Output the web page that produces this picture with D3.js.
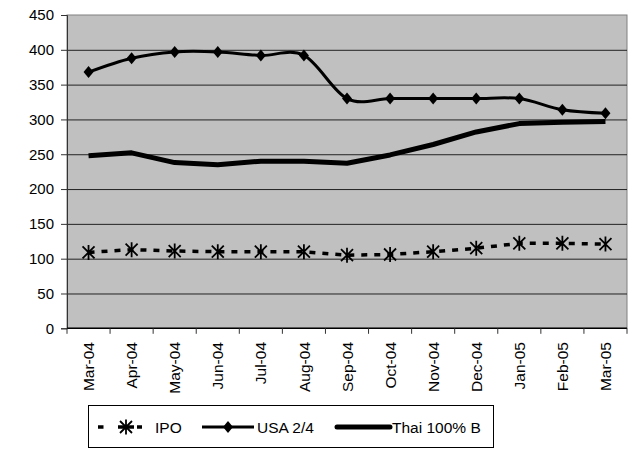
<!DOCTYPE html>
<html>
<head>
<meta charset="utf-8">
<script src="https://cdn.jsdelivr.net/npm/d3@7"></script>
<style>
  html, body { margin: 0; padding: 0; background: #fff; }
  svg { display: block; }
  text { font-family: "Liberation Sans", Arial, sans-serif; fill: #000; }
</style>
</head>
<body>
<svg id="chart" width="628" height="450"></svg>
<script>
const categories = ["Mar-04","Apr-04","May-04","Jun-04","Jul-04","Aug-04","Sep-04","Oct-04","Nov-04","Dec-04","Jan-05","Feb-05","Mar-05"];
const ipo     = [109, 113, 111, 110, 110, 110, 105, 106, 110, 115, 122, 122, 121];
const usa24   = [368, 388, 397, 397, 392, 392, 330, 330, 330, 330, 330, 314, 309];
const thai100 = [248, 252, 238, 235, 240, 240, 237, 249, 264, 282, 294, 296, 297];
const yTicks  = [0, 50, 100, 150, 200, 250, 300, 350, 400, 450];
const seriesNames = ["IPO", "USA 2/4", "Thai 100% B"];

(function () {
const svg = d3.select("#chart");
const pL = 67, pR = 627, pT = 15, pB = 328.3;

const x = d3.scaleBand().domain(categories).range([pL, pR]).padding(0);
const y = d3.scaleLinear().domain([0, 450]).range([pB, pT]);
const cx = c => x(c) + x.bandwidth() / 2;

// plot background
svg.append("rect").attr("x", pL).attr("y", pT).attr("width", pR - pL).attr("height", pB - pT)
  .attr("fill", "#c0c0c0").attr("stroke", "#808080").attr("stroke-width", 1);

// gridlines
svg.append("g").attr("transform", `translate(${pL},0)`)
  .call(d3.axisLeft(y).tickValues(yTicks.filter(v => v > 0 && v < 450)).tickSize(-(pR - pL)).tickFormat(""))
  .call(g => g.select(".domain").remove())
  .call(g => g.selectAll("line").attr("stroke", "#222").attr("stroke-width", 1));

// y axis
svg.append("g").attr("transform", `translate(${pL},0)`)
  .call(d3.axisLeft(y).tickValues(yTicks).tickSize(6).tickPadding(7).tickFormat(d3.format("d")))
  .call(g => g.select(".domain").attr("stroke", "#333"))
  .call(g => g.selectAll("line").attr("stroke", "#333"))
  .call(g => g.selectAll("text").style("font-size", "15px").style("font-family", "'Liberation Sans', Arial, sans-serif").attr("fill", "#000"));

// x axis line
svg.append("line").attr("x1", pL).attr("x2", pR).attr("y1", pB).attr("y2", pB)
  .attr("stroke", "#000").attr("stroke-width", 1.5);
// x boundary ticks
const edges = categories.map(c => x(c)).concat([x(categories[categories.length - 1]) + x.bandwidth()]);
svg.append("g").selectAll("line").data(edges).join("line")
  .attr("x1", d => d).attr("x2", d => d).attr("y1", pB).attr("y2", pB + 5.5)
  .attr("stroke", "#333").attr("stroke-width", 1);
// x labels
svg.append("g").selectAll("text").data(categories).join("text")
  .attr("transform", d => `translate(${cx(d)},342) rotate(-90)`)
  .attr("text-anchor", "end").attr("dy", "0.36em")
  .style("font-size", "15.5px")
  .text(d => d);

const smoothGen = d3.line().x((d, i) => cx(categories[i])).y(d => y(d)).curve(d3.curveCardinal.tension(0));
const linearGen = d3.line().x((d, i) => cx(categories[i])).y(d => y(d)).curve(d3.curveLinear);

// Thai
svg.append("path").datum(thai100).attr("d", linearGen).attr("fill", "none")
  .attr("stroke", "#000").attr("stroke-width", 5).attr("stroke-linejoin", "round");
// USA
svg.append("path").datum(usa24).attr("d", smoothGen).attr("fill", "none")
  .attr("stroke", "#000").attr("stroke-width", 3).attr("stroke-linejoin", "round");
// IPO
svg.append("path").datum(ipo).attr("d", linearGen).attr("fill", "none")
  .attr("stroke", "#000").attr("stroke-width", 3.5).attr("stroke-dasharray", "6,7");

const diamondPath = "M0,-6L5,0L0,6L-5,0Z";
const starPath = "M-6,-6L6,6M-6,6L6,-6M0,-7.5L0,7.5";

svg.append("g").selectAll("path").data(usa24).join("path")
  .attr("transform", (d, i) => `translate(${cx(categories[i])},${y(d)})`)
  .attr("d", diamondPath).attr("fill", "#000");

svg.append("g").selectAll("path").data(ipo).join("path")
  .attr("transform", (d, i) => `translate(${cx(categories[i])},${y(d)})`)
  .attr("d", starPath).attr("fill", "none").attr("stroke", "#000").attr("stroke-width", 1.8);

// legend
const lg = svg.append("g");
lg.append("rect").attr("x", 88.5).attr("y", 405.5).attr("width", 405).attr("height", 42)
  .attr("fill", "#fff").attr("stroke", "#000").attr("stroke-width", 1);
const ly = 427;
// IPO
[[98, 103.5], [118, 134], [137, 142]].forEach(s => {
  lg.append("line").attr("x1", s[0]).attr("x2", s[1]).attr("y1", ly).attr("y2", ly)
    .attr("stroke", "#000").attr("stroke-width", 3.5);
});
lg.append("path").attr("transform", `translate(126,${ly})`).attr("d", starPath)
  .attr("fill", "none").attr("stroke", "#000").attr("stroke-width", 1.8);
lg.append("text").attr("x", 155).attr("y", ly).attr("dy", "0.36em").style("font-size", "15.5px").text(seriesNames[0]);
// USA
lg.append("line").attr("x1", 202).attr("x2", 254).attr("y1", ly).attr("y2", ly)
  .attr("stroke", "#000").attr("stroke-width", 3);
lg.append("path").attr("transform", `translate(228,${ly})`).attr("d", diamondPath).attr("fill", "#000");
lg.append("text").attr("x", 257).attr("y", ly).attr("dy", "0.36em").style("font-size", "15.5px").text(seriesNames[1]);
// Thai
lg.append("line").attr("x1", 337).attr("x2", 390).attr("y1", ly).attr("y2", ly)
  .attr("stroke", "#000").attr("stroke-width", 5).attr("stroke-linecap", "round");
lg.append("text").attr("x", 392).attr("y", ly).attr("dy", "0.36em").style("font-size", "15.5px").text(seriesNames[2]);
})();
</script>
</body>
</html>
